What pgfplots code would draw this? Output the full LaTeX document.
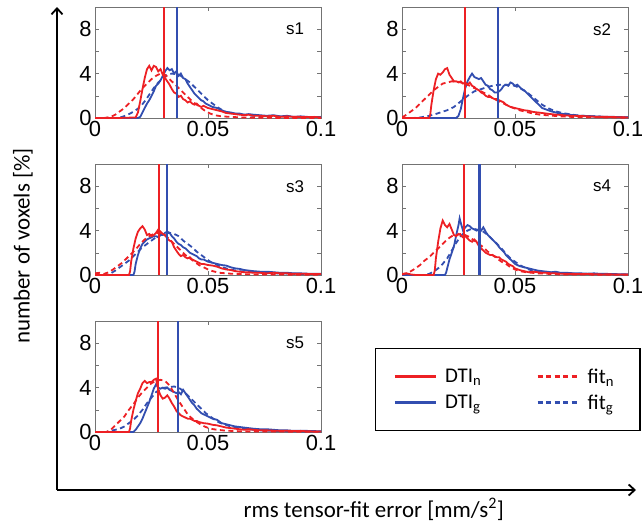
\documentclass[border=0pt]{standalone}
\usepackage{fontspec}
\setmainfont{Carlito}
\newfontfamily\arial{Liberation Sans}
\usepackage{pgfplots}
\pgfplotsset{compat=1.18}
\usetikzlibrary{arrows.meta}
\definecolor{cred}{RGB}{237,32,36}
\definecolor{cblue}{RGB}{50,78,176}

\pgfplotsset{
  panel/.style={
    scale only axis, width=226bp, height=111bp, anchor=north west,
    xmin=0, xmax=0.1, ymin=0, ymax=10,
    xtick={0,0.05,0.1}, xticklabels={0,0.05,0.1},
    ytick={0,4,8}, yticklabels={0,4,8}, minor ytick={2,6},
    tick align=inside, major tick length=4bp, minor tick length=4bp,
    axis line style={draw=black!55, line width=0.6bp},
    tick style={draw=black!55, line width=0.6bp},
    /pgf/number format/assume math mode=true,
    tick label style={font=\arial\fontsize{22}{24}\selectfont, text=black},
    clip=true,
  },
  dtin/.style={draw=cred, line width=1.8bp},
  fitn/.style={draw=cred, line width=1.8bp, dash pattern=on 5bp off 3.5bp},
  dtig/.style={draw=cblue, line width=1.8bp},
  fitg/.style={draw=cblue, line width=1.8bp, dash pattern=on 5bp off 3.5bp},
  vred/.style={draw=cred, line width=2.1bp},
  vblue/.style={draw=cblue, line width=2.1bp},
}
\newcommand{\slab}[1]{\node[font=\arial\fontsize{17}{19}\selectfont] at (axis cs:0.0885,8) {#1};}

\begin{document}
\begin{tikzpicture}
\useasboundingbox (0,0) rectangle (642bp,-525bp);

% outer frame with arrows and the two shared labels
\begin{axis}[
  scale only axis, width=579bp, height=483bp,
  at={(57bp,-490bp)}, anchor=south west,
  xmin=0, xmax=1, ymin=0, ymax=1,
  axis lines=left, ticks=none,
  axis line style={line width=1.8bp, -{Straight Barb[length=6bp,width=11bp,line width=1.8bp]}},
  xlabel={rms tensor-fit error [mm/s\textsuperscript{2}]},
  ylabel={number of voxels [\%]},
  label style={font=\fontsize{23}{26}\selectfont},
  xlabel style={at={(axis description cs:0.547,0)}, anchor=north, yshift=-5bp},
  ylabel style={at={(axis description cs:-0.059,0.505)}, anchor=center},
]
\end{axis}

% s1
\begin{axis}[panel, at={(95bp,-7bp)}]
\addplot[fitg] coordinates {(0,0)(0.010,0)(0.012,0.1)(0.014,0.25)(0.016,0.45)(0.018,0.7)(0.020,1.0)(0.022,1.5)(0.024,2.1)(0.026,2.7)(0.028,3.2)(0.030,3.6)(0.032,3.9)(0.034,4.0)(0.036,3.95)(0.038,3.8)(0.040,3.5)(0.042,3.2)(0.044,2.8)(0.046,2.4)(0.048,2.0)(0.050,1.6)(0.052,1.3)(0.054,1.0)(0.056,0.75)(0.058,0.55)(0.060,0.45)(0.063,0.35)(0.066,0.28)(0.070,0.2)(0.075,0.15)(0.080,0.12)(0.085,0.1)(0.090,0.08)(0.1,0.05)};
\addplot[dtig] coordinates {(0,0)(0.019,0)(0.020,0.1)(0.021,0.5)(0.022,0.9)(0.023,1.3)(0.024,1.6)(0.025,2.0)(0.026,2.4)(0.027,2.9)(0.028,3.1)(0.029,3.4)(0.030,3.8)(0.031,4.2)(0.032,4.5)(0.033,4.3)(0.034,4.4)(0.035,4.0)(0.036,4.2)(0.037,3.8)(0.038,4.0)(0.039,3.6)(0.040,3.5)(0.041,3.1)(0.042,2.8)(0.043,2.5)(0.044,2.2)(0.045,2.0)(0.046,1.8)(0.047,1.6)(0.048,1.5)(0.049,1.3)(0.050,1.2)(0.052,1.0)(0.054,0.9)(0.056,0.7)(0.058,0.55)(0.060,0.5)(0.062,0.4)(0.064,0.4)(0.066,0.3)(0.068,0.35)(0.070,0.3)(0.073,0.25)(0.076,0.2)(0.079,0.25)(0.082,0.15)(0.085,0.2)(0.088,0.1)(0.091,0.15)(0.094,0.1)(0.097,0.08)(0.100,0.1)};
\addplot[fitn] coordinates {(0,0)(0.004,0)(0.007,0.1)(0.009,0.3)(0.011,0.6)(0.013,0.9)(0.015,1.3)(0.017,1.7)(0.019,2.2)(0.021,2.7)(0.023,3.1)(0.025,3.5)(0.027,3.8)(0.029,4.0)(0.031,3.9)(0.033,3.5)(0.035,3.1)(0.037,2.7)(0.039,2.3)(0.041,1.9)(0.043,1.5)(0.045,1.2)(0.047,0.9)(0.049,0.6)(0.051,0.4)(0.053,0.25)(0.056,0.15)(0.060,0.1)(0.065,0.05)(0.070,0.02)(0.1,0)};
\addplot[dtin] coordinates {(0,0)(0.010,0)(0.018,0.05)(0.019,0.5)(0.020,1.5)(0.021,2.6)(0.022,3.6)(0.023,4.4)(0.024,4.7)(0.025,4.3)(0.026,4.7)(0.027,4.6)(0.028,4.2)(0.029,4.4)(0.030,3.9)(0.031,3.6)(0.032,3.3)(0.033,3.0)(0.034,2.6)(0.035,2.3)(0.036,2.2)(0.037,1.9)(0.038,2.0)(0.039,1.7)(0.040,1.6)(0.041,1.4)(0.042,1.5)(0.043,1.3)(0.044,1.2)(0.045,1.3)(0.046,1.1)(0.047,1.0)(0.048,1.1)(0.050,0.9)(0.052,0.8)(0.054,0.7)(0.056,0.6)(0.058,0.45)(0.060,0.4)(0.062,0.35)(0.064,0.3)(0.066,0.25)(0.068,0.3)(0.070,0.2)(0.073,0.2)(0.076,0.15)(0.079,0.2)(0.082,0.1)(0.085,0.15)(0.088,0.1)(0.091,0.1)(0.094,0.08)(0.097,0.1)(0.100,0.05)};
\addplot[vred] coordinates {(0.0305,0)(0.0305,10)};
\addplot[vblue] coordinates {(0.0364,0)(0.0364,10)};
\slab{s1}
\end{axis}

% s2
\begin{axis}[panel, at={(402bp,-7bp)}]
\addplot[fitg] coordinates {(0,0)(0.005,0)(0.008,0.05)(0.011,0.15)(0.014,0.3)(0.017,0.5)(0.020,0.7)(0.023,1.0)(0.026,1.5)(0.029,2.0)(0.032,2.4)(0.035,2.6)(0.038,2.8)(0.041,2.95)(0.044,3.0)(0.047,3.0)(0.050,2.9)(0.053,2.6)(0.056,2.2)(0.059,1.7)(0.062,1.2)(0.065,0.85)(0.068,0.6)(0.071,0.45)(0.074,0.35)(0.077,0.25)(0.080,0.2)(0.085,0.15)(0.090,0.1)(0.1,0.06)};
\addplot[dtig] coordinates {(0,0)(0.024,0)(0.025,0.2)(0.026,0.8)(0.027,1.8)(0.028,2.7)(0.029,3.3)(0.030,3.7)(0.031,4.0)(0.032,3.7)(0.033,3.6)(0.034,3.5)(0.035,3.6)(0.036,3.3)(0.037,3.0)(0.038,2.9)(0.039,2.6)(0.040,2.5)(0.041,2.3)(0.042,2.3)(0.043,2.4)(0.044,2.6)(0.045,2.9)(0.046,3.0)(0.047,2.9)(0.048,3.2)(0.049,3.1)(0.050,2.9)(0.051,3.0)(0.052,2.8)(0.053,2.6)(0.054,2.5)(0.055,2.3)(0.056,2.1)(0.057,1.9)(0.058,1.7)(0.059,1.5)(0.060,1.3)(0.061,1.1)(0.062,0.9)(0.064,0.75)(0.066,0.6)(0.068,0.5)(0.070,0.4)(0.072,0.35)(0.074,0.3)(0.076,0.25)(0.079,0.2)(0.082,0.18)(0.085,0.15)(0.088,0.12)(0.091,0.1)(0.094,0.1)(0.097,0.08)(0.1,0.06)};
\addplot[fitn] coordinates {(0,0.05)(0.002,0.3)(0.004,0.6)(0.006,0.9)(0.008,1.3)(0.010,1.7)(0.012,2.1)(0.014,2.5)(0.016,2.8)(0.018,3.1)(0.020,3.2)(0.022,3.3)(0.024,3.3)(0.026,3.2)(0.028,3.1)(0.030,2.9)(0.032,2.7)(0.034,2.5)(0.036,2.3)(0.038,2.1)(0.040,1.8)(0.042,1.6)(0.044,1.4)(0.046,1.2)(0.048,1.0)(0.050,0.85)(0.052,0.7)(0.055,0.55)(0.058,0.4)(0.061,0.3)(0.064,0.25)(0.067,0.2)(0.070,0.15)(0.075,0.1)(0.080,0.08)(0.090,0.05)(0.1,0.03)};
\addplot[dtin] coordinates {(0,0)(0.012,0)(0.0125,0.3)(0.013,1.2)(0.014,2.5)(0.015,3.5)(0.016,4.0)(0.017,3.9)(0.018,4.1)(0.019,4.4)(0.020,4.5)(0.021,3.9)(0.022,3.6)(0.023,3.3)(0.024,3.3)(0.025,3.2)(0.026,3.3)(0.027,3.1)(0.028,3.2)(0.029,3.0)(0.030,3.2)(0.031,2.9)(0.032,2.8)(0.033,2.6)(0.034,2.5)(0.035,2.3)(0.036,2.2)(0.037,2.0)(0.038,1.9)(0.039,1.9)(0.040,1.8)(0.041,1.7)(0.042,1.7)(0.043,1.6)(0.044,1.5)(0.045,1.4)(0.046,1.2)(0.047,1.1)(0.048,1.0)(0.050,0.9)(0.052,0.8)(0.054,0.7)(0.056,0.65)(0.058,0.55)(0.060,0.5)(0.062,0.45)(0.064,0.4)(0.066,0.35)(0.068,0.3)(0.070,0.28)(0.073,0.22)(0.076,0.2)(0.079,0.18)(0.082,0.15)(0.085,0.12)(0.088,0.1)(0.091,0.1)(0.094,0.08)(0.097,0.06)(0.1,0.05)};
\addplot[vred] coordinates {(0.0279,0)(0.0279,10)};
\addplot[vblue] coordinates {(0.0426,0)(0.0426,10)};
\slab{s2}
\end{axis}

% s3
\begin{axis}[panel, at={(95bp,-164bp)}]
\addplot[fitg] coordinates {(0,0)(0.005,0)(0.007,0.15)(0.009,0.4)(0.011,0.7)(0.013,1.0)(0.015,1.3)(0.017,1.7)(0.019,2.1)(0.021,2.5)(0.023,2.8)(0.025,3.1)(0.027,3.4)(0.029,3.6)(0.031,3.75)(0.033,3.8)(0.035,3.7)(0.037,3.5)(0.039,3.1)(0.041,2.8)(0.043,2.5)(0.045,2.1)(0.047,1.8)(0.049,1.5)(0.051,1.2)(0.053,1.0)(0.055,0.8)(0.058,0.6)(0.061,0.45)(0.064,0.35)(0.067,0.3)(0.070,0.25)(0.075,0.2)(0.080,0.15)(0.090,0.1)(0.1,0.08)};
\addplot[dtig] coordinates {(0,0)(0.017,0)(0.0175,0.3)(0.018,1.0)(0.019,1.8)(0.020,2.4)(0.021,2.8)(0.022,3.0)(0.023,3.2)(0.024,3.3)(0.025,3.4)(0.026,3.5)(0.027,3.5)(0.028,3.4)(0.029,3.6)(0.030,3.6)(0.031,3.8)(0.032,3.9)(0.033,3.8)(0.034,3.5)(0.035,3.3)(0.036,3.0)(0.037,2.8)(0.038,2.7)(0.039,2.5)(0.040,2.4)(0.041,2.2)(0.042,2.0)(0.043,1.9)(0.044,1.8)(0.045,1.7)(0.046,1.5)(0.047,1.4)(0.048,1.4)(0.049,1.3)(0.050,1.2)(0.052,1.1)(0.054,1.0)(0.056,0.9)(0.058,0.85)(0.060,0.7)(0.062,0.6)(0.064,0.55)(0.066,0.45)(0.068,0.4)(0.070,0.35)(0.073,0.3)(0.076,0.3)(0.079,0.25)(0.082,0.2)(0.085,0.2)(0.088,0.15)(0.091,0.15)(0.094,0.12)(0.097,0.1)(0.1,0.1)};
\addplot[fitn] coordinates {(0,0.15)(0.002,0.2)(0.004,0.1)(0.006,0.25)(0.008,0.5)(0.010,0.8)(0.012,1.1)(0.014,1.5)(0.016,1.9)(0.018,2.3)(0.020,2.8)(0.022,3.2)(0.024,3.5)(0.026,3.7)(0.028,3.8)(0.030,3.7)(0.032,3.4)(0.034,3.0)(0.036,2.6)(0.038,2.2)(0.040,1.8)(0.042,1.5)(0.044,1.2)(0.046,0.9)(0.048,0.7)(0.050,0.5)(0.052,0.35)(0.055,0.2)(0.060,0.12)(0.070,0.05)(0.1,0.02)};
\addplot[dtin] coordinates {(0,0)(0.015,0)(0.0155,0.3)(0.016,1.2)(0.017,2.4)(0.018,3.3)(0.019,3.9)(0.020,4.2)(0.021,4.4)(0.022,4.1)(0.023,3.6)(0.024,3.7)(0.025,3.5)(0.026,3.6)(0.027,3.8)(0.028,4.1)(0.029,3.9)(0.030,3.7)(0.031,3.6)(0.032,3.3)(0.033,3.1)(0.034,3.0)(0.035,2.5)(0.036,2.2)(0.037,1.9)(0.038,1.7)(0.039,1.8)(0.040,1.6)(0.041,1.5)(0.042,1.6)(0.043,1.4)(0.044,1.3)(0.045,1.2)(0.046,1.1)(0.047,1.0)(0.048,1.0)(0.050,0.9)(0.052,0.85)(0.054,0.75)(0.056,0.6)(0.058,0.5)(0.060,0.45)(0.062,0.35)(0.064,0.3)(0.066,0.25)(0.068,0.25)(0.070,0.2)(0.073,0.2)(0.076,0.15)(0.079,0.2)(0.082,0.15)(0.085,0.15)(0.088,0.1)(0.091,0.12)(0.094,0.1)(0.097,0.08)(0.1,0.1)};
\addplot[vred] coordinates {(0.0283,0)(0.0283,10)};
\addplot[vblue] coordinates {(0.0320,0)(0.0320,10)};
\slab{s3}
\end{axis}

% s4
\begin{axis}[panel, at={(402bp,-164bp)}]
\addplot[fitg] coordinates {(0,0)(0.010,0)(0.012,0.1)(0.014,0.3)(0.016,0.6)(0.018,1.0)(0.020,1.5)(0.022,2.2)(0.024,2.9)(0.026,3.5)(0.028,3.9)(0.030,4.1)(0.032,4.15)(0.034,4.05)(0.036,3.9)(0.038,3.6)(0.040,3.2)(0.042,2.8)(0.044,2.4)(0.046,1.9)(0.048,1.5)(0.050,1.2)(0.052,0.9)(0.054,0.7)(0.056,0.5)(0.059,0.35)(0.062,0.3)(0.066,0.2)(0.070,0.15)(0.080,0.1)(0.090,0.06)(0.1,0.05)};
\addplot[dtig] coordinates {(0,0)(0.019,0)(0.0195,0.2)(0.020,0.6)(0.021,1.4)(0.022,2.0)(0.023,2.6)(0.024,3.6)(0.025,4.5)(0.0255,5.1)(0.026,4.7)(0.027,4.0)(0.028,4.3)(0.029,4.5)(0.030,4.4)(0.031,4.2)(0.032,4.1)(0.033,4.0)(0.034,4.1)(0.035,4.0)(0.036,4.3)(0.037,3.9)(0.038,3.6)(0.039,3.4)(0.040,3.2)(0.041,3.0)(0.042,2.8)(0.043,2.5)(0.044,2.3)(0.045,2.1)(0.046,1.8)(0.047,1.6)(0.048,1.4)(0.049,1.2)(0.050,1.0)(0.051,0.9)(0.052,0.8)(0.054,0.7)(0.056,0.6)(0.058,0.5)(0.060,0.4)(0.062,0.35)(0.064,0.3)(0.066,0.25)(0.068,0.3)(0.070,0.2)(0.073,0.2)(0.076,0.15)(0.079,0.15)(0.082,0.12)(0.085,0.15)(0.088,0.1)(0.091,0.1)(0.094,0.08)(0.097,0.07)(0.1,0.06)};
\addplot[fitn] coordinates {(0,0.05)(0.002,0.15)(0.004,0.35)(0.006,0.6)(0.008,0.9)(0.010,1.3)(0.012,1.6)(0.014,2.0)(0.016,2.4)(0.018,2.8)(0.020,3.2)(0.022,3.5)(0.024,3.6)(0.026,3.7)(0.028,3.6)(0.030,3.4)(0.032,3.1)(0.034,2.8)(0.036,2.5)(0.038,2.1)(0.040,1.8)(0.042,1.5)(0.044,1.2)(0.046,1.0)(0.048,0.7)(0.050,0.5)(0.052,0.35)(0.055,0.25)(0.060,0.15)(0.065,0.1)(0.070,0.05)(0.1,0.02)};
\addplot[dtin] coordinates {(0,0.1)(0.002,0.15)(0.004,0.05)(0.006,0)(0.014,0)(0.0145,0.4)(0.015,1.5)(0.016,3.0)(0.017,4.2)(0.018,4.9)(0.019,4.5)(0.020,4.3)(0.021,4.6)(0.022,4.1)(0.023,3.6)(0.024,3.5)(0.025,3.7)(0.026,3.6)(0.027,3.4)(0.028,3.5)(0.029,3.3)(0.030,3.1)(0.031,3.0)(0.032,3.2)(0.033,3.0)(0.034,2.6)(0.035,2.4)(0.036,2.2)(0.037,2.0)(0.038,1.9)(0.039,1.8)(0.040,1.8)(0.041,1.7)(0.042,1.6)(0.043,1.6)(0.044,1.4)(0.045,1.3)(0.046,1.2)(0.047,1.0)(0.048,0.9)(0.049,0.8)(0.050,0.6)(0.052,0.45)(0.054,0.35)(0.056,0.25)(0.058,0.3)(0.060,0.25)(0.062,0.2)(0.064,0.2)(0.066,0.15)(0.068,0.15)(0.070,0.12)(0.073,0.1)(0.076,0.1)(0.079,0.08)(0.082,0.1)(0.085,0.07)(0.088,0.05)(0.091,0.06)(0.094,0.05)(0.097,0.05)(0.1,0.04)};
\addplot[vred] coordinates {(0.0275,0)(0.0275,10)};
\addplot[vblue] coordinates {(0.0343,0)(0.0343,10)};
\slab{s4}
\end{axis}

% s5 with the legend
\begin{axis}[panel, at={(95bp,-321bp)},
  legend columns=2,
  legend image code/.code={\draw[#1, line width=2.4bp] (0bp,0bp) -- (41bp,0bp);},
  legend style={at={(axis description cs:1.239,0.757)}, anchor=north west,
    draw=black, line width=1.2bp, font=\fontsize{21}{23}\selectfont,
    inner xsep=18bp, inner ysep=19bp, row sep=8bp,
    nodes={inner xsep=8bp, inner ysep=1bp},
    /tikz/every even column/.append style={column sep=47bp}},
  legend cell align=left,
]
\addlegendimage{dtin}
\addlegendimage{fitn}
\addlegendimage{dtig}
\addlegendimage{fitg}
\addplot[fitg] coordinates {(0,0)(0.005,0)(0.007,0.1)(0.009,0.2)(0.011,0.3)(0.013,0.5)(0.015,0.8)(0.017,1.1)(0.019,1.5)(0.021,2.0)(0.023,2.6)(0.025,3.1)(0.027,3.6)(0.029,3.85)(0.031,4.0)(0.033,4.05)(0.035,4.1)(0.037,4.0)(0.039,3.7)(0.041,3.3)(0.043,2.9)(0.045,2.5)(0.047,2.1)(0.049,1.7)(0.051,1.4)(0.053,1.1)(0.055,0.85)(0.057,0.7)(0.060,0.5)(0.064,0.35)(0.068,0.25)(0.073,0.15)(0.080,0.1)(0.090,0.06)(0.1,0.05)};
\addplot[dtig] coordinates {(0,0)(0.017,0)(0.018,0.2)(0.019,0.5)(0.020,0.8)(0.021,1.2)(0.022,1.7)(0.023,2.2)(0.024,2.7)(0.025,3.3)(0.026,3.9)(0.027,4.3)(0.028,4.0)(0.029,3.9)(0.030,4.0)(0.031,3.9)(0.032,4.0)(0.033,3.8)(0.034,3.7)(0.035,3.6)(0.036,3.5)(0.037,3.6)(0.038,3.4)(0.039,3.8)(0.040,3.5)(0.041,3.2)(0.042,2.9)(0.043,2.6)(0.044,2.4)(0.045,2.1)(0.046,1.9)(0.047,1.7)(0.048,1.6)(0.049,1.5)(0.050,1.4)(0.052,1.2)(0.054,1.1)(0.056,0.8)(0.058,0.7)(0.060,0.6)(0.062,0.5)(0.064,0.45)(0.066,0.4)(0.068,0.35)(0.070,0.3)(0.073,0.25)(0.076,0.25)(0.079,0.2)(0.082,0.15)(0.085,0.15)(0.088,0.1)(0.091,0.12)(0.094,0.1)(0.097,0.08)(0.1,0.07)};
\addplot[fitn] coordinates {(0,0)(0.005,0)(0.007,0.2)(0.009,0.6)(0.011,1.0)(0.013,1.4)(0.015,2.0)(0.017,2.5)(0.019,3.1)(0.021,3.6)(0.023,4.0)(0.025,4.4)(0.027,4.6)(0.029,4.7)(0.031,4.6)(0.033,4.2)(0.035,3.5)(0.037,2.8)(0.039,2.2)(0.041,1.6)(0.043,1.2)(0.045,0.9)(0.047,0.65)(0.049,0.45)(0.051,0.3)(0.054,0.2)(0.058,0.12)(0.065,0.06)(0.1,0.02)};
\addplot[dtin] coordinates {(0,0)(0.015,0)(0.0155,0.3)(0.016,1.0)(0.017,2.0)(0.018,2.8)(0.019,3.5)(0.020,3.9)(0.021,4.4)(0.022,4.6)(0.023,4.4)(0.024,4.5)(0.025,4.5)(0.026,4.7)(0.027,4.8)(0.028,3.8)(0.029,3.3)(0.030,3.0)(0.031,3.1)(0.032,3.3)(0.033,3.0)(0.034,2.6)(0.035,2.3)(0.036,1.9)(0.037,1.7)(0.038,1.5)(0.039,1.4)(0.040,1.3)(0.041,1.2)(0.042,1.2)(0.043,1.1)(0.044,1.0)(0.045,1.0)(0.046,0.9)(0.047,0.85)(0.048,0.8)(0.050,0.75)(0.052,0.65)(0.054,0.6)(0.056,0.5)(0.058,0.4)(0.060,0.35)(0.062,0.3)(0.064,0.25)(0.066,0.2)(0.068,0.25)(0.070,0.2)(0.073,0.15)(0.076,0.15)(0.079,0.12)(0.082,0.1)(0.085,0.12)(0.088,0.08)(0.091,0.1)(0.094,0.06)(0.097,0.05)(0.1,0.05)};
\addplot[vred] coordinates {(0.0278,0)(0.0278,10)};
\addplot[vblue] coordinates {(0.0367,0)(0.0367,10)};
\slab{s5}
\legend{DTI\textsubscript{n}, fit\textsubscript{n}, DTI\textsubscript{g}, fit\textsubscript{g}}
\end{axis}
\end{tikzpicture}
\end{document}
